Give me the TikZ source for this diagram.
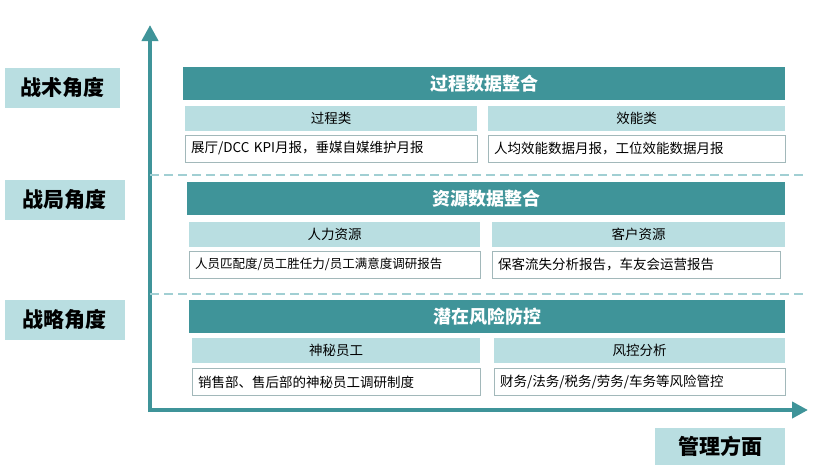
\documentclass[tikz,border=0pt]{standalone}
\usepackage{fontspec}
\setmainfont{Noto Sans CJK SC}
\usetikzlibrary{arrows.meta}
\definecolor{teal1}{HTML}{3F9499}
\definecolor{teal2}{HTML}{B9DEE1}
\tikzset{
  head/.style={fill=teal1,text=white,font=\bfseries\fontsize{18}{20}\selectfont,minimum height=33pt,inner sep=0pt},
  sub/.style={fill=teal2,font=\fontsize{13.5}{15}\selectfont,minimum height=25pt,inner sep=0pt},
  info/.style={draw=teal2!60!gray,line width=0.6pt,fill=white,font=\fontsize{13.5}{15}\selectfont,minimum height=27pt,inner sep=6pt,text width=#1-12pt,minimum width=#1,align=left},
  side/.style={fill=teal2,font=\bfseries\fontsize{21}{24}\selectfont,inner sep=0pt,minimum height=40pt}
}
\begin{document}
\begin{tikzpicture}[x=1pt,y=-1pt]
\useasboundingbox (0,0) rectangle (833,475);
% axes
\coordinate (o) at (150,410);
\coordinate (ytop) at (150,25);
\coordinate (xend) at (808,410);
\draw[teal1,line width=4pt,-{Triangle[length=16pt,width=16pt]}] (150,412) -- (ytop);
\draw[teal1,line width=4pt,-{Triangle[length=16pt,width=16pt]}] (148,410) -- (xend);
% side labels
\node[side,minimum width=115pt] (tac) at (62,88) {战术角度};
\node[side,minimum width=120pt] (bat) at (65,200) {战局角度};
\node[side,minimum width=120pt] (str) at (65,320) {战略角度};
\node[side,minimum width=130pt,minimum height=37pt] (mgt) at (720,446) {管理方面};
% row 1
\node[head,minimum width=602pt] (h1) at (484,83.5) {过程数据整合};
\node[sub,minimum width=292pt] (s1a) at (331,118) {过程类};
\node[sub,minimum width=297pt] (s1b) at (636.5,118) {效能类};
\node[info=292pt] (d1a) at (331,148.5) {展厅/DCC KPI月报，垂媒自媒维护月报};
\node[info=297pt] (d1b) at (636.5,148.5) {人均效能数据月报，工位效能数据月报};
\draw[teal2!80!teal1,line width=2.5pt,dash pattern=on 9pt off 5pt] (150,175) -- (805,175);
% row 2
\node[head,minimum width=598pt] (h2) at (486,198.5) {资源数据整合};
\node[sub,minimum width=291pt] (s2a) at (334.5,234) {人力资源};
\node[sub,minimum width=293pt] (s2b) at (638.5,234) {客户资源};
\node[info=291pt,font=\fontsize{12.5}{14}\selectfont] (d2a) at (334.5,264.5) {人员匹配度/员工胜任力/员工满意度调研报告};
\node[info=288pt] (d2b) at (636,264.5) {保客流失分析报告，车友会运营报告};
\draw[teal2!80!teal1,line width=2.5pt,dash pattern=on 9pt off 5pt] (150,294) -- (805,294);
% row 3
\node[head,minimum width=596pt] (h3) at (487,316.5) {潜在风险防控};
\node[sub,minimum width=288pt] (s3a) at (336,350.5) {神秘员工};
\node[sub,minimum width=291pt] (s3b) at (639.5,350.5) {风控分析};
\node[info=288pt] (d3a) at (336,382) {销售部、售后部的神秘员工调研制度};
\node[info=291pt] (d3b) at (639.5,382) {财务/法务/税务/劳务/车务等风险管控};
\end{tikzpicture}
\end{document}
